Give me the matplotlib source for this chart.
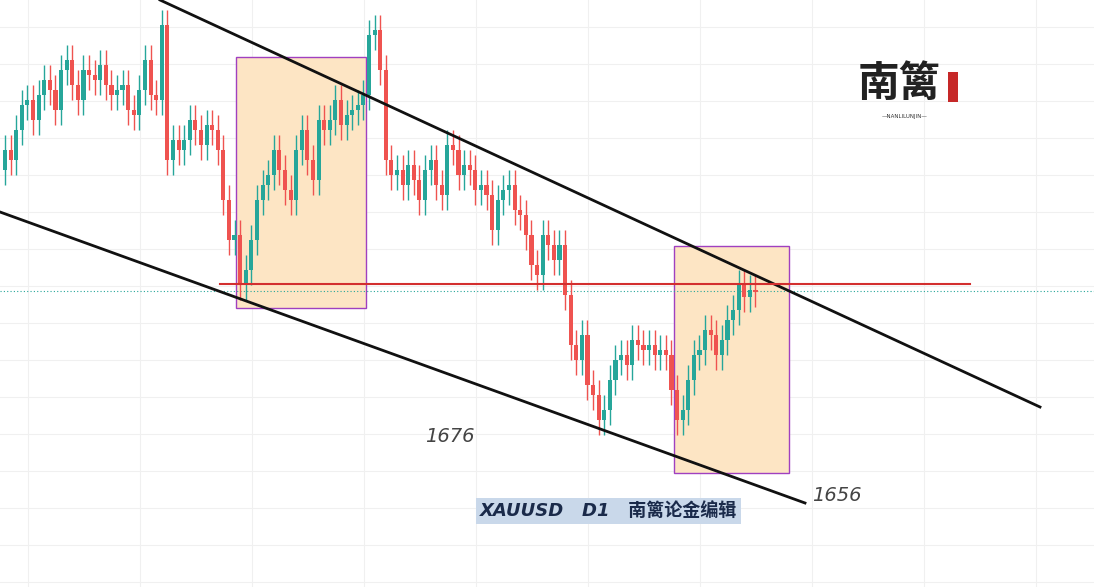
import matplotlib.pyplot as plt
from matplotlib.patches import Rectangle

plt.rcParams['font.family'] = ['DejaVu Sans', 'Noto Sans CJK SC']

# daily closes (open = previous close)
closes = [
    1790, 1786, 1798, 1808, 1810, 1802, 1812, 1818, 1814, 1806, 1822, 1826, 1816, 1810, 1822,
    1820, 1818, 1824, 1816, 1812, 1814, 1816, 1806, 1804, 1814, 1826, 1812, 1810, 1840,
    1786, 1794, 1790, 1794, 1802, 1798, 1792, 1800, 1798, 1790, 1770, 1754, 1756,
    1736, 1742, 1754, 1770, 1776, 1780, 1790, 1782, 1774, 1770, 1790, 1798, 1786, 1778, 1802,
    1798, 1802, 1810, 1800, 1804, 1806, 1808, 1812,
    1836, 1838, 1822, 1786,
    1780, 1782, 1776, 1784, 1778, 1770, 1782, 1786, 1776, 1772, 1792, 1790, 1780, 1784, 1782,
    1774, 1776, 1772, 1758, 1770, 1774, 1776, 1766, 1764, 1756, 1744, 1740, 1756, 1752, 1746, 1752,
    1732, 1712, 1706, 1716, 1696, 1692, 1682, 1686, 1698, 1706, 1708, 1704, 1714, 1712, 1710,
    1712, 1708, 1710, 1708,
    1694, 1682, 1686, 1698, 1708, 1710, 1718, 1716, 1708, 1714, 1722, 1726, 1736, 1731, 1734, 1733,
]
first_open = 1782
wick = 6

UP = '#26a69a'
DOWN = '#ef5350'

W, H = 1094, 587
fig = plt.figure(figsize=(W / 100, H / 100), dpi=100)
ax = fig.add_axes([0, 0, 1, 1])
x0, dx = 5, 5.6
ax.set_xlim(-x0 / dx, (W - x0) / dx)
ax.set_ylim(1850 - 0.4 * H, 1850)
ax.axis('off')


def px(x, y):
    # picture pixel -> data coords
    return (x - x0) / dx, 1850 - 0.4 * y


# grid
for gx in range(28, W, 112):
    ax.axvline(px(gx, 0)[0], color='#f0f0f0', lw=0.8, zorder=0)
for gy in range(27, H, 37):
    ax.axhline(px(0, gy)[1], color='#f0f0f0', lw=0.8, zorder=0)

# boxes
for (xa, ya, xb, yb) in [(236, 57, 366, 308), (674, 246, 789, 473)]:
    (a, b), (c, d) = px(xa, yb), px(xb, ya)
    ax.add_patch(Rectangle((a, b), c - a, d - b, facecolor='#fde5c4',
                           edgecolor='#a040c0', lw=1, zorder=1))

# candles
o = first_open
for i, c in enumerate(closes):
    col = UP if c >= o else DOWN
    ax.vlines(i, min(o, c) - wick, max(o, c) + wick, color=col, lw=1, zorder=3)
    ax.bar(i, abs(c - o) or 0.6, bottom=min(o, c), width=0.75, color=col, zorder=3)
    o = c

# channel lines
for (xa, ya, xb, yb) in [(160, 0, 1040, 407), (0, 212, 805, 503)]:
    p, q = px(xa, ya), px(xb, yb)
    ax.plot([p[0], q[0]], [p[1], q[1]], color='#111111', lw=2, zorder=4)

# resistance line and last price
a, yr = px(220, 284)
b, _ = px(970, 284)
ax.plot([a, b], [yr, yr], color='#d32f2f', lw=1.5, zorder=4)
ax.axhline(px(0, 291)[1], color='#26a69a', lw=0.8, ls=(0, (1, 2)), zorder=2)

# labels
ax.text(*px(425, 437), '1676', fontsize=14, style='italic', color='#444444', va='center')
ax.text(*px(812, 496), '1656', fontsize=14, style='italic', color='#444444', va='center')
ax.text(*px(480, 511), 'XAUUSD   D1   南篱论金编辑', fontsize=13, style='italic',
        weight='bold', color='#1a2a4a', va='center',
        bbox=dict(facecolor='#c9d8ea', edgecolor='none', pad=3))

# logo
ax.text(*px(858, 84), '南篱', fontsize=30, weight='bold', color='#222222', va='center',
        family='Noto Sans CJK SC')
ax.text(*px(905, 117), '—NANLILUNJIN—', fontsize=4, color='#333333', va='center', ha='center')
(a, b), (c, d) = px(948, 102), px(958, 72)
ax.add_patch(Rectangle((a, b), c - a, d - b, facecolor='#c62828', edgecolor='none', zorder=5))

fig.savefig('out.png', dpi=100)
